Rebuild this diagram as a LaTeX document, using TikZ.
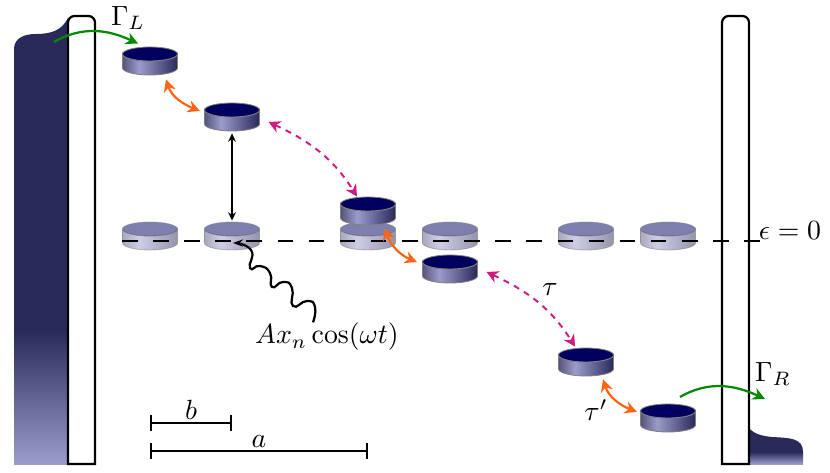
\documentclass[tikz,border=0pt]{standalone}
\usetikzlibrary{arrows.meta}
\definecolor{leadblue}{HTML}{29295A}
\definecolor{leadpale}{HTML}{9C9CCC}
\definecolor{disktop}{HTML}{00005F}
\definecolor{hopgreen}{HTML}{008A00}
\definecolor{hoporange}{HTML}{FF6414}
\definecolor{hoppink}{HTML}{D01C80}
\pgfdeclarehorizontalshading{diskside}{100bp}{color(0bp)=(leadblue!80); color(25bp)=(leadblue!80); color(40bp)=(leadpale); color(75bp)=(leadblue); color(100bp)=(leadblue)}
\tikzset{
  barrier/.style={draw=black,line width=0.8pt,fill=white,rounded corners=2.4pt},
  tunnel/.style={draw=hopgreen,line width=0.8pt,-{Stealth[length=4.4pt,width=4.4pt]}},
  hop/.style={draw=hoporange,line width=0.8pt,{Stealth[length=4.4pt,width=4.4pt]}-{Stealth[length=4.4pt,width=4.4pt]}},
  longhop/.style={draw=hoppink,line width=0.7pt,dash pattern=on 2.2pt off 2pt,{Stealth[length=4.2pt,width=4.4pt]}-{Stealth[length=4.2pt,width=4.4pt]}},
  scalebar/.style={line width=0.7pt,{Bar[width=5.8pt]}-{Bar[width=5.8pt]}},
  diskbox/.style={inner sep=0pt,minimum width=19.8pt,minimum height=10pt}
}
% name, position, options
\newcommand{\disk}[3][]{
  \begin{scope}[shift={(#3)},#1]
    \shade[shading=diskside,draw=gray,line width=0.3pt] (-27.5,-7) -- (-27.5,7) arc[start angle=180,end angle=0,x radius=27.5,y radius=7] -- (27.5,-7) arc[start angle=0,end angle=180,x radius=27.5,y radius=7] -- cycle;
    \fill[disktop,draw=gray,line width=0.3pt] (0,-7) ellipse[x radius=27.5,y radius=7];
    \node[diskbox] (#2) at (0,0) {};
  \end{scope}
}
\begin{document}
\begin{tikzpicture}[x=0.36pt,y=-0.36pt]
  \useasboundingbox (0,0) rectangle (830,473);
  % leads
  \fill[leadblue] (14,330) -- (14,48) .. controls (15,38) and (24,34) .. (36,34) .. controls (52,34) and (62,30) .. (68,18) -- (68,330) -- cycle;
  \shade[top color=leadblue,bottom color=leadpale] (14,330) rectangle (68,464);
  \fill[leadblue] (749,452) -- (749,428) .. controls (754,434) and (762,436) .. (772,437) .. controls (790,438) and (803,438) .. (803,452) -- cycle;
  \shade[top color=leadblue,bottom color=leadpale] (749,452) rectangle (803,464);
  \path[barrier] (68,464) [sharp corners] -- (68,40) [rounded corners=2.4pt] -- (68,16) -- (95,16) -- (95,40) [sharp corners] -- (95,464) -- cycle;
  \path[barrier] (722,464) [sharp corners] -- (722,40) [rounded corners=2.4pt] -- (722,16) -- (749,16) -- (749,40) [sharp corners] -- (749,464) -- cycle;
  % disks
  \foreach \name/\xpos in {g1/150,g2/232,g3/368,g4/450,g5/586,g6/668}
    \disk[opacity=0.5]{\name}{\xpos,236};
  \disk{d1}{150,61}
  \disk{d2}{232,117}
  \disk{d3}{368,211}
  \disk{d4}{450,269}
  \disk{d5}{586,362}
  \disk{d6}{668,418}
  % zero level
  \coordinate (levelL) at (122,241);
  \coordinate (levelR) at (775,241);
  \draw[line width=0.8pt,dash pattern=on 5.6pt off 5.6pt] (levelL) -- (levelR);
  \node (zero) at (790,231) {$\epsilon=0$};
  % tunnelling
  \coordinate (inL) at (54,42);
  \coordinate (inR) at (680,397);
  \coordinate (outR) at (765,399);
  \draw[tunnel] (inL) to[out=30,in=155] ([shift={(-12,-3)}]d1.north);
  \draw[tunnel] (inR) to[out=30,in=155] (outR);
  \node (gammaL) at (128,18) {$\Gamma_L$};
  \node (gammaR) at (773,374) {$\Gamma_R$};
  % hopping
  \draw[hop] ([shift={(16,4)}]d1.south) to[out=-72,in=158] ([shift={(-4,-6)}]d2.west);
  \draw[hop] ([shift={(17,-8)}]g3.center) to[out=-72,in=158] ([shift={(-5,-7)}]d4.west);
  \draw[hop] ([shift={(17,3)}]d5.south) to[out=-72,in=158] ([shift={(-3,-6)}]d6.west);
  \draw[longhop] ([shift={(8.5,5)}]d2.east) to[out=-25,in=122] ([shift={(-11,0)}]d3.north);
  \draw[longhop] ([shift={(8.5,3)}]d4.east) to[out=-25,in=122] ([shift={(-11,-1)}]d5.north);
  \node (tau) at (550,290) {$\tau$};
  \node (taup) at (596,410) {$\tau'$};
  % driving
  \draw[{Stealth[length=3pt,width=2.8pt]}-{Stealth[length=3pt,width=2.8pt]},line width=0.4pt] ([shift={(0,2)}]d2.south) -- ([shift={(0,-1)}]g2.north);
  \node (drive) at (327,337) {$Ax_n\cos(\omega t)$};
  \draw[line width=0.8pt,-{Stealth[length=3.6pt,width=2.6pt]}] plot[smooth,tension=1] coordinates {([shift={(-14,9)}]drive.north) (315,307) (307,301) (293,306) (292,288) (283,282) (272,287) (270,273) (260,266) (250,268) (251,250) ([shift={(1,7)}]g2.center)};
  % lattice spacings
  \coordinate (bL) at (150,423);
  \coordinate (bR) at (232,423);
  \coordinate (aL) at (150,451);
  \coordinate (aR) at (368,451);
  \draw[scalebar] (bL) -- node[above=-2.5pt] (blabel) {$b$} (bR);
  \draw[scalebar] (aL) -- node[above=-2.5pt] (alabel) {$a$} (aR);
\end{tikzpicture}
\end{document}
